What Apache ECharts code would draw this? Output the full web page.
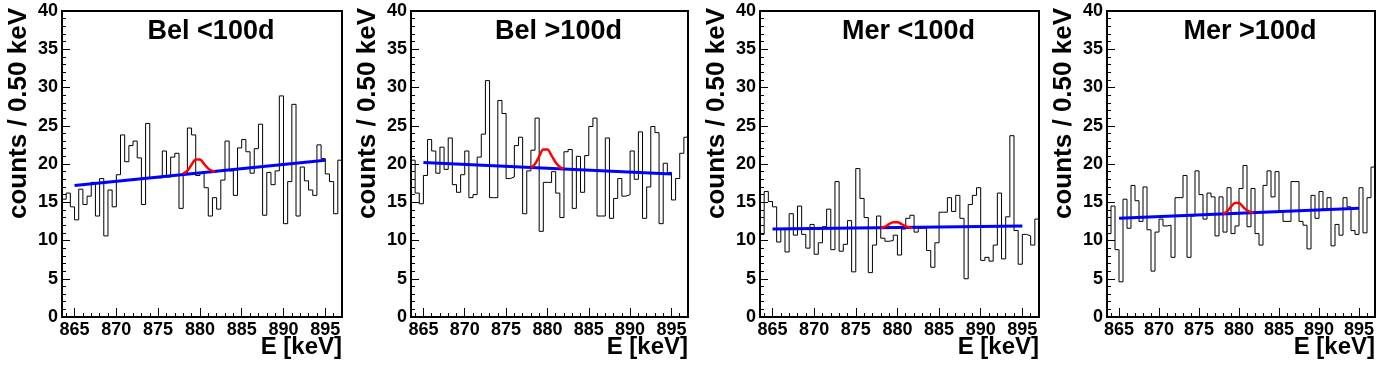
<!DOCTYPE html>
<html>
<head>
<meta charset="utf-8">
<script src="https://cdn.jsdelivr.net/npm/echarts@6/dist/echarts.min.js"></script>
<style>
  html, body { margin: 0; padding: 0; background: #fff; }
  #chart { width: 1396px; height: 372px; }
</style>
</head>
<body>
<div id="chart"></div>
<script>
  // binning of the energy spectra (0.5 keV bins)
  const binLo = 863.5;
  const binHi = 897;
  const binWidth = 0.5;

  const titles = ['Bel <100d', 'Bel >100d', 'Mer <100d', 'Mer >100d'];
  const xTitle = 'E [keV]';
  const yTitle = 'counts / 0.50 keV';

  // counts per bin
  const countsBelShort = [15.4, 16.2, 14.4, 12.7, 16.7, 14.7, 15.8, 17.6, 13.2, 18.1,
    10.6, 16.6, 14.4, 18.6, 23.8, 20.3, 22.4, 23.0, 20.8, 14.7,
    25.3, 18.2, 18.2, 18.2, 21.7, 18.3, 20.9, 21.4, 14.2, 18.8,
    24.7, 23.8, 18.5, 18.8, 16.9, 13.2, 15.6, 14.1, 17.9, 23.0,
    19.1, 15.9, 22.1, 23.2, 21.6, 18.8, 22.0, 25.2, 13.3, 18.9,
    17.3, 19.1, 28.9, 12.2, 17.7, 27.8, 13.2, 19.6, 17.8, 16.6,
    15.9, 22.5, 20.7, 18.7, 17.7, 13.5, 20.5];
  const countsBelLong = [20.5, 16.2, 14.8, 18.5, 23.2, 21.7, 18.8, 22.2, 19.3, 23.4,
    17.3, 16.3, 18.6, 21.7, 15.6, 16.0, 20.9, 23.9, 30.9, 15.6,
    15.6, 28.3, 26.6, 18.1, 18.3, 22.4, 23.5, 13.5, 19.1, 21.8,
    26.0, 11.2, 17.6, 17.6, 19.0, 16.2, 13.0, 21.6, 21.9, 14.2,
    21.0, 16.3, 21.1, 24.9, 26.0, 13.2, 13.2, 23.4, 12.9, 15.5,
    18.1, 15.8, 16.0, 21.7, 18.0, 24.2, 12.9, 17.0, 24.9, 24.1,
    12.2, 20.1, 18.9, 15.3, 18.1, 21.4, 23.5];
  const countsMerShort = [10.8, 16.4, 15.1, 14.4, 9.8, 11.5, 8.5, 13.5, 10.7, 14.5,
    10.8, 9.0, 12.1, 8.2, 9.7, 11.8, 14.1, 8.8, 17.7, 8.6,
    9.5, 12.6, 5.9, 19.4, 15.5, 13.0, 5.8, 9.4, 13.2, 10.3,
    9.9, 10.0, 10.7, 8.1, 11.5, 12.9, 13.3, 11.1, 11.6, 11.6,
    8.7, 6.5, 9.7, 13.7, 13.7, 15.6, 13.8, 15.9, 12.9, 5.0,
    14.7, 15.9, 16.9, 7.4, 7.8, 7.3, 9.4, 16.2, 7.6, 13.1,
    23.7, 11.3, 6.9, 10.8, 10.6, 9.4, 12.8];
  const countsMerLong = [10.9, 14.5, 8.8, 4.6, 15.4, 11.6, 17.2, 15.2, 12.5, 17.0,
    11.4, 6.0, 11.1, 12.8, 11.9, 12.0, 7.8, 15.6, 15.6, 18.5,
    7.8, 13.2, 19.1, 16.0, 12.8, 16.2, 15.7, 10.6, 15.7, 11.1,
    16.9, 10.9, 11.9, 16.8, 19.8, 11.8, 16.8, 10.9, 9.4, 17.2,
    19.1, 15.7, 19.0, 13.9, 12.5, 12.5, 17.7, 17.7, 12.5, 12.0,
    8.9, 15.9, 12.9, 16.4, 14.1, 15.6, 9.3, 12.1, 10.7, 15.6,
    14.4, 11.3, 10.8, 16.9, 11.0, 15.6, 19.6];

  // background fit (blue), end points [E, counts]
  const bkgBelShort = [[865, 17.2], [895, 20.5]];
  const bkgBelLong = [[865, 20.2], [895, 18.7]];
  const bkgMerShort = [[865, 11.5], [895, 11.9]];
  const bkgMerLong = [[865, 12.9], [895, 14.2]];

  // signal + background fit (red) around 880 keV, [E, counts]
  const peakBelShort = [[878.0, 18.75], [878.5, 19.1], [879.0, 19.9], [879.5, 20.6], [880.0, 20.6],
    [880.5, 20.0], [881.0, 19.4], [881.5, 19.1], [881.8, 19.0]];
  const peakBelLong = [[878.0, 19.5], [878.5, 20.0], [879.0, 21.0], [879.5, 21.9], [880.0, 21.9],
    [880.5, 21.1], [881.0, 20.2], [881.5, 19.6], [882.0, 19.4]];
  const peakMerShort = [[878.0, 11.65], [878.5, 11.8], [879.0, 12.15], [879.5, 12.4], [880.0, 12.4],
    [880.5, 12.15], [881.0, 11.85], [881.5, 11.7], [881.8, 11.65]];
  const peakMerLong = [[878.0, 13.45], [878.5, 13.8], [879.0, 14.4], [879.5, 14.9], [880.0, 14.9],
    [880.5, 14.4], [881.0, 13.95], [881.5, 13.7], [881.8, 13.6]];

  const panelData = [
    [countsBelShort, bkgBelShort, peakBelShort],
    [countsBelLong, bkgBelLong, peakBelLong],
    [countsMerShort, bkgMerShort, peakMerShort],
    [countsMerLong, bkgMerLong, peakMerLong]
  ];

  // frame left / width of each pad
  const frames = [[62, 280], [411, 277], [760, 279], [1107, 268]];
  const frameTop = 11;
  const frameHeight = 306;
  const font = 'Liberation Sans, Arial, Helvetica, sans-serif';

  function histPoints(counts) {
    const pts = counts.map(function (v, i) { return [binLo + i * binWidth, v]; });
    pts.push([binHi, counts[counts.length - 1]]);
    return pts;
  }

  const grid = [], xAxis = [], yAxis = [], series = [], graphic = [];

  panelData.forEach(function (d, i) {
    const left = frames[i][0], width = frames[i][1];
    grid.push({
      left: left, top: frameTop, width: width, height: frameHeight,
      show: true, borderColor: '#000', borderWidth: 2, backgroundColor: '#fff'
    });
    xAxis.push({
      type: 'value', gridIndex: i, min: binLo, max: binHi,
      minInterval: 5, maxInterval: 5, splitNumber: 7,
      axisLine: { onZero: false, lineStyle: { color: '#000', width: 2 } },
      axisTick: { inside: true, length: 9, lineStyle: { color: '#000', width: 1 } },
      minorTick: { show: true, splitNumber: 5, length: 4, lineStyle: { color: '#000', width: 1 } },
      splitLine: { show: false },
      axisLabel: {
        color: '#000', fontFamily: font, fontWeight: 'bold', fontSize: 18, margin: 4,
        formatter: function (v) { return v % 5 === 0 ? String(v) : ''; }
      }
    });
    yAxis.push({
      type: 'value', gridIndex: i, min: 0, max: 40, interval: 5,
      axisLine: { onZero: false, lineStyle: { color: '#000', width: 2 } },
      axisTick: { inside: true, length: 8, lineStyle: { color: '#000', width: 1 } },
      minorTick: { show: true, splitNumber: 5, length: 4, lineStyle: { color: '#000', width: 1 } },
      splitLine: { show: false },
      axisLabel: { color: '#000', fontFamily: font, fontWeight: 'bold', fontSize: 18, margin: 4 }
    });
    series.push({
      type: 'line', xAxisIndex: i, yAxisIndex: i, step: 'end', symbol: 'none',
      data: histPoints(d[0]), lineStyle: { color: '#000', width: 1 }, z: 2
    });
    series.push({
      type: 'line', xAxisIndex: i, yAxisIndex: i, symbol: 'none',
      data: d[1], lineStyle: { color: '#0000ff', width: 3 }, z: 3
    });
    series.push({
      type: 'line', xAxisIndex: i, yAxisIndex: i, symbol: 'none', smooth: 0.3,
      data: d[2], lineStyle: { color: '#ff0000', width: 2.5 }, z: 4
    });

    graphic.push({
      type: 'text', x: left + width / 2 + 9, y: 32, z: 10,
      style: { text: titles[i], font: 'bold 27px ' + font, fill: '#000', align: 'center', verticalAlign: 'middle' }
    });
    graphic.push({
      type: 'text', x: left - 43, y: 8, rotation: Math.PI / 2, z: 10,
      style: { text: yTitle, font: 'bold 26px ' + font, fill: '#000', align: 'right', verticalAlign: 'middle' }
    });
    graphic.push({
      type: 'text', x: left + width, y: 347, z: 10,
      style: { text: xTitle, font: 'bold 24px ' + font, fill: '#000', align: 'right', verticalAlign: 'middle' }
    });
  });

  const chart = echarts.init(document.getElementById('chart'));
  chart.setOption({
    backgroundColor: '#fff',
    animation: false,
    grid: grid,
    xAxis: xAxis,
    yAxis: yAxis,
    series: series,
    graphic: graphic
  });
</script>
</body>
</html>
